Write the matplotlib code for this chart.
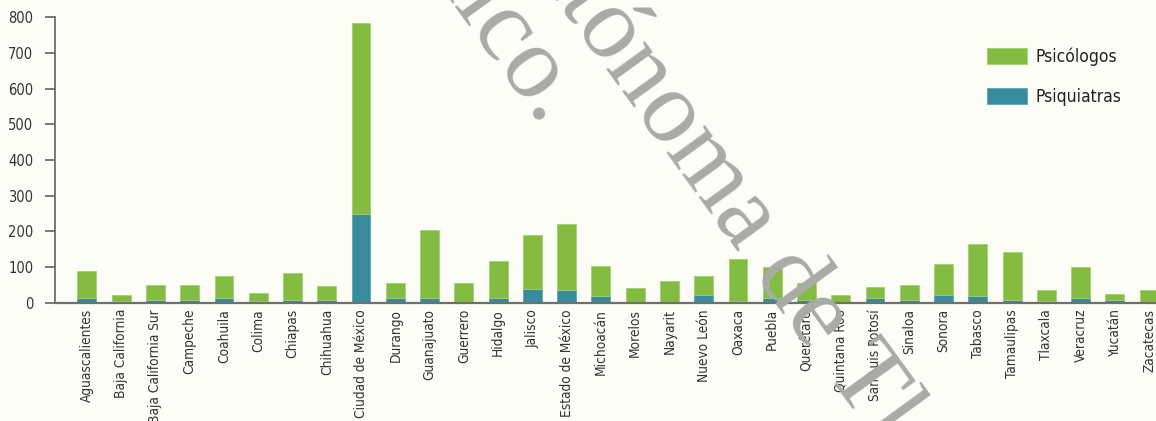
import matplotlib.pyplot as plt
import numpy as np

estados = ['Aguascalientes', 'Baja California', 'Baja California Sur', 'Campeche',
           'Coahuila', 'Colima', 'Chiapas', 'Chihuahua', 'Ciudad de México',
           'Durango', 'Guanajuato', 'Guerrero', 'Hidalgo', 'Jalisco',
           'Estado de México', 'Michoacán', 'Morelos', 'Nayarit', 'Nuevo León',
           'Oaxaca', 'Puebla', 'Querétaro', 'Quintana Roo', 'San Luis Potosí',
           'Sinaloa', 'Sonora', 'Tabasco', 'Tamaulipas', 'Tlaxcala', 'Veracruz',
           'Yucatán', 'Zacatecas']

psiquiatras = [13, 6, 8, 8, 13, 5, 8, 8, 248, 14, 14, 1, 14, 39, 35, 18,
               2, 1, 22, 5, 14, 8, 3, 14, 8, 22, 20, 8, 4, 14, 7, 2]
psicologos = [76, 15, 43, 43, 62, 21, 74, 40, 537, 40, 189, 53, 104, 150, 185, 86,
              40, 59, 52, 117, 85, 47, 18, 31, 42, 86, 145, 135, 32, 85, 17, 34]

y_ticks = [0, 100, 200, 300, 400, 500, 600, 700, 800]

verde = '#84bc41'
azul = '#388b9c'
fondo = '#fdfdf8'
gris = '#6f6f6f'

plt.rcParams['font.family'] = ['DejaVu Sans']
plt.rcParams['font.stretch'] = 'condensed'

fig = plt.figure(figsize=(11.56, 4.21), dpi=100, facecolor=fondo)
ax = fig.add_axes([0.0476, 0.281, 0.9524, 0.678])
ax.set_facecolor(fondo)

x = np.arange(len(estados))
ax.bar(x, psiquiatras, width=0.55, color=azul, edgecolor='#5fa6b4', linewidth=0.6,
       label='Psiquiatras', zorder=2)
ax.bar(x, psicologos, width=0.55, bottom=psiquiatras, color=verde, edgecolor='#a3cf72',
       linewidth=0.6, label='Psicólogos', zorder=2)

ax.set_xlim(-0.93, 31.2)
ax.set_ylim(0, 800)
ax.set_yticks(y_ticks)
ax.set_xticks(x)
ax.set_xticklabels(estados, rotation=90, fontsize=9.8, color='#333333')
ax.tick_params(axis='x', length=0, pad=4.5)
ax.tick_params(axis='y', length=7, width=1.3, color=gris, pad=8.5, labelsize=10.5,
               labelcolor='#333333')

for s in ['top', 'right']:
    ax.spines[s].set_visible(False)
ax.spines['left'].set_color(gris)
ax.spines['left'].set_linewidth(1.3)
ax.spines['bottom'].set_color(gris)
ax.spines['bottom'].set_linewidth(1.6)

handles, labels = ax.get_legend_handles_labels()
fig.legend(handles[::-1], labels[::-1], loc='center left', bbox_to_anchor=(0.854, 0.818),
           frameon=False, fontsize=12.5, handlelength=2.3, handleheight=1.0,
           handletextpad=0.5, labelspacing=1.25, borderpad=0, borderaxespad=0,
           labelcolor='#222222')

# marca de agua
marca = dict(fontsize=74, color='#a9aba7', rotation=-54, rotation_mode='anchor',
             va='baseline', family='Liberation Serif', fontstretch='normal',
             zorder=10)
fig.text(0.5484, 0.741, 'Autón', ha='right', **marca)
fig.text(0.5484, 0.741, 'oma de Tlaxcala', ha='left', **marca)
fig.text(0.428, 0.841, 'Méxic', ha='right', **marca)
fig.text(0.428, 0.841, 'o.', ha='left', **marca)

fig.savefig('out.png', dpi=100, facecolor=fondo)
